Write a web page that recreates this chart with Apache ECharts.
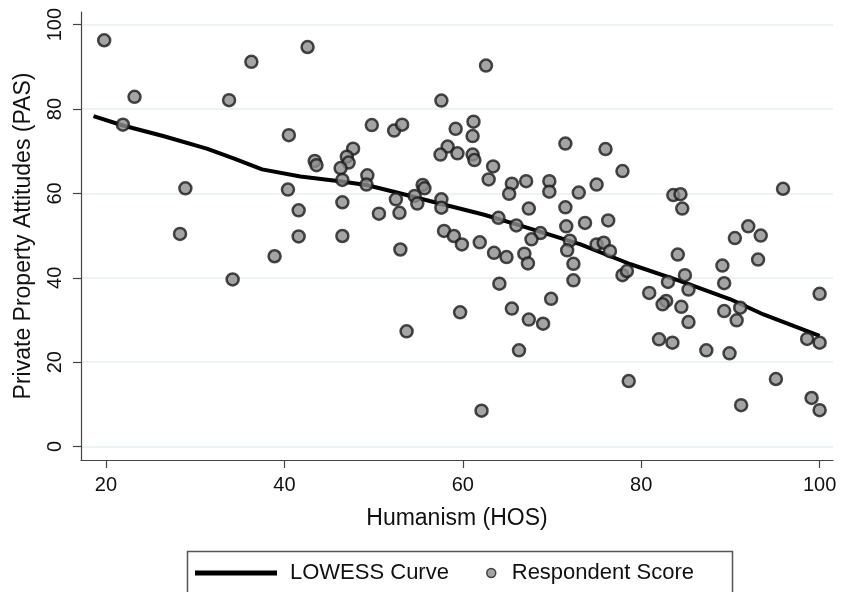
<!DOCTYPE html>
<html>
<head>
<meta charset="utf-8">
<script src="https://cdn.jsdelivr.net/npm/echarts@6/dist/echarts.min.js"></script>
<style>
  html, body { margin: 0; padding: 0; background: #fff; }
  #chart { width: 842px; height: 592px; }
</style>
</head>
<body>
<div id="chart"></div>
<script>
// respondent scores: humanism (x) and private property attitudes (y)
const hosScore = [
  19.8, 23.2, 21.9, 36.3, 42.6, 33.8, 28.9, 40.5, 43.4, 43.6,
  40.4, 41.6, 28.3, 41.6, 34.2, 38.9, 46.5, 62.6, 57.6, 49.8,
  52.3, 53.2, 59.2, 61.2, 61.1, 71.5, 47.7, 47.0, 47.2, 46.3,
  46.5, 58.3, 57.5, 59.4, 61.1, 61.3, 63.4, 62.9, 49.3, 49.2,
  55.5, 55.7, 65.5, 65.2, 67.1, 69.7, 69.7, 73.0, 46.5, 52.5,
  54.6, 54.9, 50.6, 52.9, 57.6, 57.6, 64.0, 66.0, 67.4, 71.5,
  71.6, 68.7, 73.7, 57.9, 59.0, 59.9, 61.9, 53.0, 63.5, 64.9,
  66.9, 67.3, 67.7, 72.0, 71.7, 72.4, 72.4, 64.1, 59.7, 65.5,
  67.4, 69.0, 69.9, 53.7, 66.3, 62.1, 76.0, 77.9, 75.0, 83.6,
  84.4, 84.6, 95.9, 76.3, 92.0, 93.4, 90.5, 93.1, 75.0, 75.8,
  76.5, 77.9, 78.4, 84.1, 89.1, 84.9, 83.0, 85.3, 89.3, 80.9,
  82.8, 82.4, 84.5, 85.3, 89.3, 91.1, 90.7, 100.0, 98.6, 100.0,
  82.0, 83.5, 87.3, 89.9, 78.6, 95.1, 91.2, 99.1, 100.0
];
const pasScore = [
  96.3, 82.9, 76.3, 91.2, 94.7, 82.1, 61.2, 73.8, 67.7, 66.7,
  60.9, 56.0, 50.4, 49.8, 39.6, 45.1, 49.9, 90.3, 82.0, 76.2,
  74.9, 76.3, 75.3, 77.0, 73.6, 71.8, 70.6, 68.7, 67.3, 66.0,
  63.2, 71.1, 69.2, 69.5, 69.2, 67.9, 66.4, 63.3, 64.3, 62.1,
  62.0, 61.2, 62.3, 59.9, 62.9, 62.9, 60.4, 60.2, 57.9, 58.6,
  59.4, 57.6, 55.2, 55.4, 58.6, 56.6, 54.2, 52.4, 56.4, 56.7,
  52.2, 50.6, 53.0, 51.1, 49.9, 47.9, 48.4, 46.7, 45.9, 44.9,
  45.7, 43.4, 49.1, 48.8, 46.5, 43.3, 39.4, 38.6, 31.8, 32.7,
  30.1, 29.1, 35.0, 27.3, 22.8, 8.5, 70.5, 65.3, 62.1, 59.6,
  59.8, 56.4, 61.1, 53.6, 52.2, 50.0, 49.4, 44.3, 47.9, 48.3,
  46.3, 40.6, 41.6, 45.5, 42.9, 40.6, 39.0, 37.2, 38.7, 36.4,
  34.5, 33.7, 33.1, 29.5, 32.1, 32.9, 29.9, 36.2, 25.5, 24.6,
  25.4, 24.6, 22.8, 22.1, 15.5, 16.0, 9.8, 11.5, 8.6
];

// smoothed curve
const lowessX = [18.6, 21.9, 26.4, 31.3, 34.3, 37.5, 41.8, 46.2, 49.2, 52.6,
  56.3, 62.3, 66.1, 69.0, 73.2, 78.8, 84.4, 90.0, 93.7, 100.0];
const lowessY = [78.3, 76.1, 73.6, 70.6, 68.3, 65.7, 64.0, 62.9, 62.0, 60.2,
  58.2, 55.0, 52.6, 50.7, 47.9, 43.2, 39.2, 34.9, 31.3, 26.2];

const xTicks = [20, 40, 60, 80, 100];
const yTicks = [0, 20, 40, 60, 80, 100];

const FONT = '"Liberation Sans", Arial, sans-serif';
const TEXT = '#111';

const chart = echarts.init(document.getElementById('chart'));

const option = {
  backgroundColor: '#fff',
  animation: false,
  grid: { left: 81, right: 9, top: 12, bottom: 132 },
  xAxis: {
    type: 'value',
    min: 17.2,
    max: 101.5,
    name: 'Humanism (HOS)',
    nameLocation: 'middle',
    nameGap: 47,
    nameTextStyle: { fontFamily: FONT, fontSize: 23, color: TEXT },
    axisLine: { show: true, onZero: false, lineStyle: { color: '#444', width: 1.2 } },
    axisTick: { show: true, length: 8, customValues: xTicks, lineStyle: { color: '#444', width: 1.2 } },
    axisLabel: { customValues: xTicks, margin: 15, fontFamily: FONT, fontSize: 20, color: TEXT },
    splitLine: { show: false }
  },
  yAxis: {
    type: 'value',
    min: -3.2,
    max: 103,
    name: 'Private Property Attitudes (PAS)',
    nameLocation: 'middle',
    nameGap: 46,
    nameTextStyle: { fontFamily: FONT, fontSize: 23, color: TEXT },
    axisLine: { show: true, onZero: false, lineStyle: { color: '#444', width: 1.2 } },
    axisTick: { show: true, length: 8, customValues: yTicks, lineStyle: { color: '#444', width: 1.2 } },
    axisLabel: { customValues: yTicks, rotate: 90, margin: 16, fontFamily: FONT, fontSize: 20, color: TEXT },
    splitLine: { show: true, lineStyle: { color: '#e6eff2', width: 1.5 } }
  },
  legend: [
    {
      data: [{ name: 'LOWESS Curve', icon: 'rect' }],
      left: 195, top: 562,
      padding: 0,
      itemWidth: 82, itemHeight: 5,
      itemStyle: { color: '#000' },
      textStyle: { fontFamily: FONT, fontSize: 22, color: TEXT, padding: [0, 0, 0, 8] }
    },
    {
      data: ['Respondent Score'],
      left: 486, top: 562,
      padding: 0,
      itemWidth: 9, itemHeight: 9,
      itemStyle: { borderWidth: 1.5 },
      textStyle: { fontFamily: FONT, fontSize: 22, color: TEXT, padding: [0, 0, 0, 11] }
    }
  ],
  graphic: [{
    type: 'rect',
    left: 185, top: 549,
    shape: { width: 545, height: 60 },
    style: { fill: 'none', stroke: '#555', lineWidth: 1.5 },
    silent: true
  }],
  series: [
    {
      name: 'LOWESS Curve',
      type: 'line',
      symbol: 'none',
      z: 2,
      lineStyle: { color: '#000', width: 4 },
      itemStyle: { color: '#000' },
      data: lowessX.map((x, i) => [x, lowessY[i]])
    },
    {
      name: 'Respondent Score',
      type: 'scatter',
      z: 3,
      symbol: 'circle',
      symbolSize: 12,
      itemStyle: { color: '#8d8d8d', borderColor: '#1a1a1a', borderWidth: 2.5 },
      data: hosScore.map((x, i) => [x, pasScore[i]])
    }
  ]
};

chart.setOption(option);
</script>
</body>
</html>
